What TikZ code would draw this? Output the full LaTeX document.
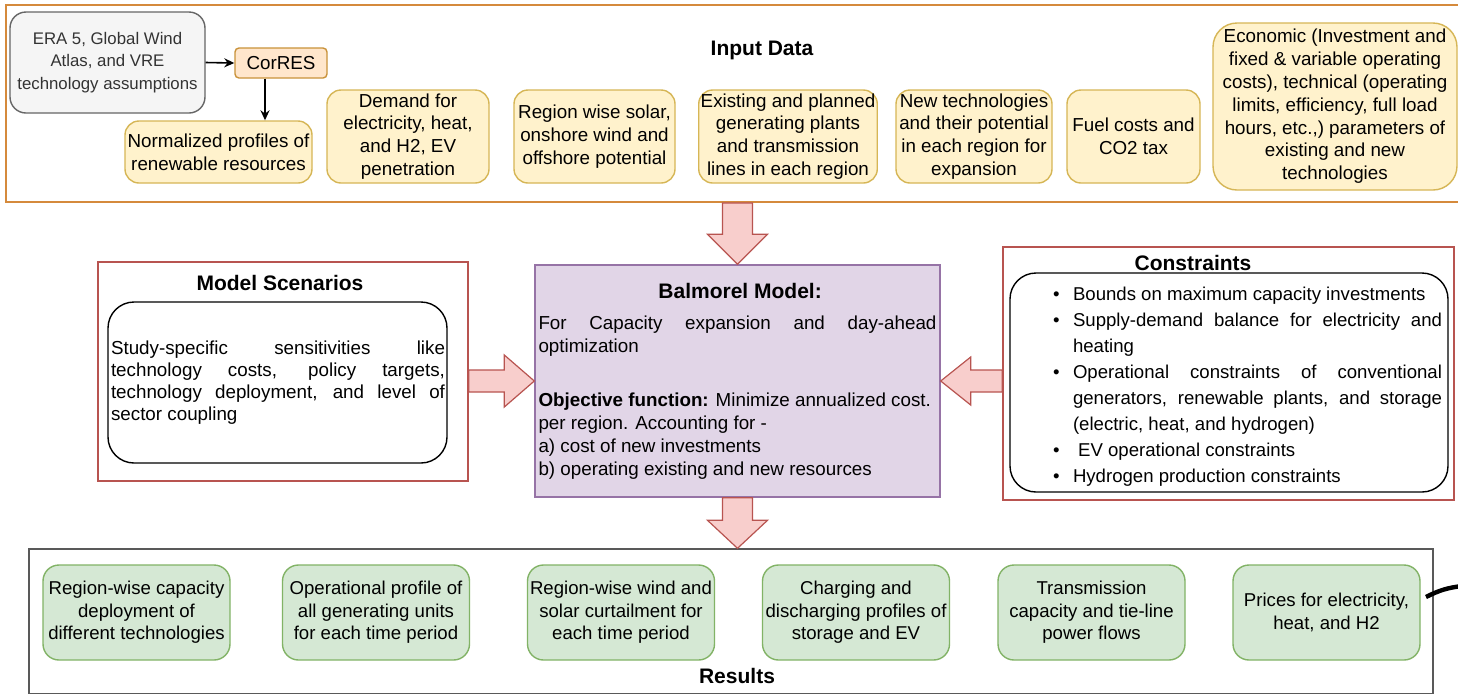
\documentclass[tikz,border=0pt]{standalone}
\usepackage{fontspec}
\setmainfont{Liberation Sans}
\usetikzlibrary{arrows.meta,calc}

\setlength{\parindent}{0pt}
\hyphenpenalty=10000
\tolerance=10000

\definecolor{inedge}{HTML}{D58A3C}
\definecolor{yfill}{HTML}{FFF2CC}
\definecolor{yedge}{HTML}{D6B656}
\definecolor{gfill}{HTML}{F5F5F5}
\definecolor{gedge}{HTML}{666666}
\definecolor{cfill}{HTML}{FFE6CC}
\definecolor{cedge}{HTML}{C9923A}
\definecolor{grfill}{HTML}{D5E8D4}
\definecolor{gredge}{HTML}{82B366}
\definecolor{redge}{HTML}{B85450}
\definecolor{pfill}{HTML}{E1D5E7}
\definecolor{pedge}{HTML}{9673A6}
\definecolor{afill}{HTML}{F8CECC}

% bullet line for the constraints list
\newcommand{\citem}[1]{\par\noindent\hangindent=10pt\hangafter=1\makebox[10pt][l]{\textbullet}#1}

\tikzset{
  inbox/.style={rectangle,rounded corners=7pt,draw=yedge,fill=yfill,line width=0.7pt,
    align=center,inner sep=1pt,font=\fontsize{9.4}{11.4}\selectfont},
  greybox/.style={rectangle,rounded corners=8pt,draw=gedge,fill=gfill,line width=0.7pt,
    align=center,inner sep=1pt,text=black!80,font=\fontsize{8.4}{11.4}\selectfont},
  corbox/.style={rectangle,rounded corners=2pt,draw=cedge,fill=cfill,line width=0.7pt,
    inner sep=1pt,font=\fontsize{9.4}{11.4}\selectfont},
  resbox/.style={rectangle,rounded corners=8pt,draw=gredge,fill=grfill,line width=0.7pt,
    align=center,inner sep=1pt,minimum width=93.5pt,minimum height=47.5pt,
    font=\fontsize{9.3}{11.3}\selectfont},
  inframe/.style={rectangle,draw=inedge,line width=0.9pt},
  redframe/.style={rectangle,draw=redge,line width=0.8pt},
  resframe/.style={rectangle,draw=black!65,line width=0.7pt},
  roundbox/.style={rectangle,rounded corners=13pt,draw=black,line width=0.7pt},
  title/.style={font=\fontsize{10.5}{13}\selectfont\bfseries},
  balbox/.style={rectangle,draw=pedge,fill=pfill,line width=0.7pt,inner xsep=1.5pt,
    align=justify,font=\fontsize{9.4}{11.5}\selectfont},
  justtext/.style={align=justify,inner sep=0pt,font=\fontsize{9.4}{11}\selectfont},
  listtext/.style={align=justify,inner sep=0pt,font=\fontsize{9.3}{13}\selectfont},
  barrow/.style={fill=afill,draw=redge,line width=0.6pt},
}

\begin{document}
\begin{tikzpicture}[x=0.5pt,y=-0.5pt,>={Stealth[length=5pt,width=4.5pt]}]
\useasboundingbox[fill=white] (0,0) rectangle (1458,693);

% input data
\node at (740.5,103.5) [inframe,minimum width=734.5pt,minimum height=98.5pt] (inframe) {};
\node at (762,50) [title] (intitle) {Input Data};

\node at (107.5,62.5) [greybox,minimum width=97.5pt,minimum height=50.5pt] (era) {ERA 5, Global Wind\\
                                                  Atlas, and VRE\\ technology assumptions};
\node at (281,63) [corbox,minimum width=46pt,minimum height=15pt] (cores) {CorRES};
\node at (218.5,152) [inbox,minimum width=93.5pt,minimum height=31pt] (norm) {Normalized profiles of\\
                                                  renewable resources};

\node at (408,136.5) [inbox,minimum width=81pt,minimum height=46.5pt] (demand) {Demand for\\
                                                  electricity, heat,\\ and H2, EV\\ penetration};
\node at (594.5,136.5) [inbox,minimum width=80.5pt,minimum height=46.5pt] (potential) {Region wise solar,\\
                                                  onshore wind and\\ offshore potential};
\node at (788,136.5) [inbox,minimum width=88pt,minimum height=46.5pt] (plants) {Existing and planned\\
                                                  generating plants\\ and transmission\\ lines in each region};
\node at (974,136.5) [inbox,minimum width=78pt,minimum height=46.5pt] (newtech) {New technologies\\
                                                  and their potential\\ in each region for\\ expansion};
\node at (1133.5,136.5) [inbox,minimum width=66.5pt,minimum height=46.5pt] (fuel) {Fuel costs and\\
                                                  CO2 tax};
\node at (1335,106.5) [inbox,rounded corners=12pt,minimum width=122pt,minimum height=83.5pt] (params) {Economic (Investment and\\
                                                  fixed \& variable operating\\ costs), technical (operating\\
                                                  limits, efficiency, full load\\ hours, etc.,) parameters of\\
                                                  existing and new\\ technologies};

\draw[->,line width=0.8pt] (era.east) -- (cores.west);
\draw[->,line width=0.8pt] ([xshift=-8pt]cores.south) -- ([xshift=-8pt]cores.south |- norm.north);

% model scenarios
\node at (283,371.5) [redframe,minimum width=185pt,minimum height=109.5pt] (scen) {};
\node at (280,283) [title] (scentitle) {Model Scenarios};
\node at (277.5,382.5) [roundbox,minimum width=169.5pt,minimum height=80.5pt] (scenbox) {};
\node at (278,383) [justtext,text width=167pt] (scentext) {Study-specific sensitivities like
                                                  technology costs, policy targets, technology deployment,
                                                  and level of sector coupling};

% balmorel
\node at (737.5,381) [balbox,minimum width=202.5pt,minimum height=116pt,text width=199pt] (balmorel) {%
  \vspace*{4pt}
  {\centering\fontsize{10.5}{13}\selectfont\bfseries Balmorel Model:\par}
  For Capacity expansion and day-ahead optimization\par
  \vspace{15.5pt}
  \textbf{Objective function:} Minimize annualized cost.\\
  per region. Accounting for -\\
  a) cost of new investments\\
  b) operating existing and new resources};

% constraints
\node at (1228.5,373.5) [redframe,minimum width=225.5pt,minimum height=126.5pt] (cons) {};
\node at (1193,263) [title] (constitle) {Constraints};
\node at (1229,382.5) [roundbox,minimum width=219pt,minimum height=109.5pt] (consbox) {};
\node at (1247.5,380.5) [listtext,text width=194.5pt] (conslist) {%
  \citem{Bounds on maximum capacity investments}
  \citem{Supply-demand balance for electricity and heating}
  \citem{Operational constraints of conventional generators, renewable plants, and storage (electric, heat, and hydrogen)}
  \citem{\ EV operational constraints}
  \citem{Hydrogen production constraints}};

% results
\node at (731,621.5) [resframe,minimum width=702pt,minimum height=72.5pt] (resframe) {};
\node at (737,676) [title] (restitle) {Results};
\node at (136.5,612.5) [resbox] (rescap) {Region-wise capacity\\ deployment of\\ different technologies};
\node at (376,612.5) [resbox] (resprof) {Operational profile of\\ all generating units\\ for each time period};
\node at (621,612.5) [resbox] (rescurt) {Region-wise wind and\\ solar curtailment for\\ each time period};
\node at (856,612.5) [resbox] (resstor) {Charging and\\ discharging profiles of\\ storage and EV};
\node at (1091.5,612.5) [resbox] (resflow) {Transmission\\ capacity and tie-line\\ power flows};
\node at (1326.5,612.5) [resbox] (resprice) {Prices for electricity,\\ heat, and H2};

% block arrows
\draw[barrow] let \p1=(inframe.south), \p2=(balmorel.north) in
  (\x2-7.5pt,\y1) -- (\x2+7.5pt,\y1) -- (\x2+7.5pt,\y2+15pt) -- (\x2+15pt,\y2+15pt) -- (\x2,\y2)
  -- (\x2-15pt,\y2+15pt) -- (\x2-7.5pt,\y2+15pt) -- cycle;
\draw[barrow] let \p1=(balmorel.south), \p2=(resframe.north) in
  (\x1-7.5pt,\y1) -- (\x1+7.5pt,\y1) -- (\x1+7.5pt,\y2+14pt) -- (\x1+15pt,\y2+14pt) -- (\x1,\y2)
  -- (\x1-15pt,\y2+14pt) -- (\x1-7.5pt,\y2+14pt) -- cycle;
\draw[barrow] let \p1=(scen.east), \p2=(balmorel.west) in
  (\x1,\y2+5.5pt) -- (\x2-15pt,\y2+5.5pt) -- (\x2-15pt,\y2+13pt) -- (\x2,\y2)
  -- (\x2-15pt,\y2-13pt) -- (\x2-15pt,\y2-5.5pt) -- (\x1,\y2-5.5pt) -- cycle;
\draw[barrow] let \p1=(cons.west), \p2=(balmorel.east) in
  (\x1,\y2+5.5pt) -- (\x2+15pt,\y2+5.5pt) -- (\x2+15pt,\y2+12pt) -- (\x2,\y2)
  -- (\x2+15pt,\y2-12pt) -- (\x2+15pt,\y2-5.5pt) -- (\x1,\y2-5.5pt) -- cycle;

% cut connector at the right edge
\coordinate (cutA) at (1426,597);
\coordinate (cutB) at (1462,586);
\draw[line width=2.2pt] (cutA) to[bend left=10] (cutB);
\end{tikzpicture}
\end{document}
